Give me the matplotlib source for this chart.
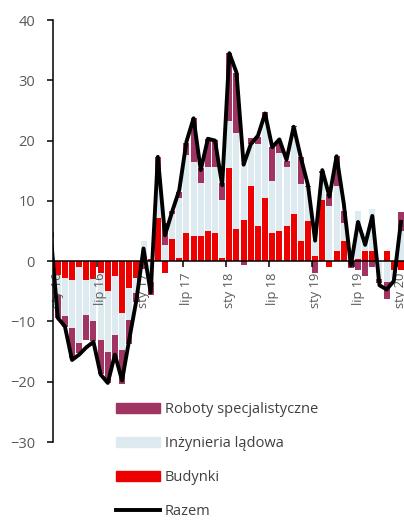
import matplotlib
matplotlib.use("Agg")
import matplotlib.pyplot as plt
from matplotlib.patches import Patch
from matplotlib.lines import Line2D
import numpy as np

plt.rcParams['font.family'] = ['Open Sans', 'DejaVu Sans']

# miesiące: gru 2015 ... sty 2020 (indeks 0 = sty 16)
miesiace = np.arange(-1, 49)

budynki = [0.9,
           -2.3, -2.8, -3.2, -1.0, -3.1, -3.0, -2.0, -5.0, -2.5, -8.6, -4.5, -2.8,
           -0.3, 0.4, 7.1, -2.0, 3.6, 0.6, 4.7, 4.2, 4.2, 5.0, 4.7, 0.5,
           15.5, 5.3, 6.9, 12.5, 5.8, 10.5, 4.7, 5.0, 5.8, 7.8, 3.3, 6.6,
           0.8, 10.2, -1.0, 1.7, 3.3, -0.7, 0.3, 1.7, 1.7, 0.0, 1.7, -1.5,
           -1.5]
inzynieria = [2.9,
              -3.3, -6.3, -7.9, -12.5, -5.8, -7.0, -11.0, -10.0, -9.8, -6.2, -5.2, -2.5,
              3.4, -3.5, 5.5, 2.6, 4.2, 9.8, 12.9, 12.2, 8.7, 10.6, 10.9, 9.6,
              7.8, 16.0, 9.3, 6.9, 13.6, 12.9, 8.6, 13.0, 9.8, 14.4, 9.5, 5.7,
              2.7, 4.5, 9.1, 10.8, 3.0, 0.5, 8.0, 3.0, 6.9, -3.0, -3.4, -1.3,
              5.0]
roboty = [1.0,
          -3.8, -1.8, -5.0, -1.8, -4.1, -3.2, -5.8, -5.2, -4.0, -5.5, -4.0, -1.5,
          -1.0, -2.1, 4.7, 3.8, 0.6, 1.1, 2.0, 7.4, 2.5, 4.6, 4.5, 2.8,
          11.2, 9.9, -0.7, 1.0, 1.2, 1.4, 5.6, 1.8, 1.0, 0.3, 4.4, 0.2,
          -2.0, 0.3, 2.1, 4.9, 2.0, -0.5, -1.5, -2.4, -1.0, -0.6, -2.8, 0.0,
          3.1]
razem = [4.8,
         -9.4, -10.8, -16.4, -15.5, -14.3, -13.4, -18.8, -20.2, -15.5, -19.8, -13.0, -6.5,
         2.1, -5.2, 17.3, 4.3, 8.2, 11.8, 19.8, 23.7, 15.1, 20.3, 20.0, 12.6,
         34.5, 31.3, 16.0, 19.4, 20.8, 24.5, 18.9, 20.2, 16.8, 22.3, 17.2, 12.6,
         3.4, 15.1, 10.7, 17.4, 9.6, -0.7, 6.5, 2.7, 7.5, -4.0, -4.7, -3.3,
         6.5]

etykiety = ['sty 16', 'lip 16', 'sty 17', 'lip 17', 'sty 18',
            'lip 18', 'sty 19', 'lip 19', 'sty 20']

serie = [('Budynki', budynki, '#ec0000'),
         ('Inżynieria lądowa', inzynieria, '#ddebf0'),
         ('Roboty specjalistyczne', roboty, '#a03463')]

fig = plt.figure(figsize=(4.04, 5.20), dpi=100)
ax = fig.add_axes([53/404, 1 - 442/520, (404 - 53)/404, (442 - 20)/520])

# słupki skumulowane osobno dla wartości dodatnich i ujemnych
pos = np.zeros(len(miesiace))
neg = np.zeros(len(miesiace))
for nazwa, wart, kolor in serie:
    v = np.array(wart)
    dol = np.where(v >= 0, pos, neg)
    ax.bar(miesiace, v, bottom=dol, width=0.84, color=kolor, linewidth=0, zorder=1)
    pos = pos + np.where(v >= 0, v, 0)
    neg = neg + np.where(v < 0, v, 0)

ax.plot(miesiace, razem, color='black', linewidth=2.8, zorder=3)

ax.set_xlim(-0.66, 48.43)
ax.set_ylim(-30, 40)
ax.set_yticks(range(-30, 41, 10))

ax.spines['top'].set_visible(False)
ax.spines['right'].set_visible(False)
ax.spines['bottom'].set_position(('data', 0))
for s in ['left', 'bottom']:
    ax.spines[s].set_linewidth(1.1)
    ax.spines[s].set_color('black')

# kreski między kategoriami, podpisy na środku
ax.set_xticks(np.arange(-0.5, 48, 6))
ax.set_xticklabels([])
ax.set_xticks(np.arange(0, 49, 6), minor=True)
ax.set_xticklabels(etykiety, minor=True, rotation=90, fontsize=9.3, color='#595959')
ax.tick_params(axis='x', which='major', direction='out', length=4, width=1.1, color='black')
ax.tick_params(axis='x', which='minor', length=0, pad=8.5)
ax.tick_params(axis='y', direction='out', length=4, width=1.1, labelsize=10.5,
               labelcolor='#595959', pad=9)

uchwyty = [Patch(color='#a03463'), Patch(color='#ddebf0'), Patch(color='#ec0000'),
           Line2D([0], [0], color='black', linewidth=2.8)]
nazwy = ['Roboty specjalistyczne', 'Inżynieria lądowa', 'Budynki', 'Razem']
fig.legend(uchwyty, nazwy, loc='upper left', bbox_to_anchor=(116/404, 1 - 402/520),
           frameon=False, fontsize=10.5, handlelength=3.0, handleheight=0.62,
           handletextpad=0.35, labelspacing=1.3, borderpad=0, borderaxespad=0,
           labelcolor='#404040')

fig.savefig('out.png', dpi=100)
